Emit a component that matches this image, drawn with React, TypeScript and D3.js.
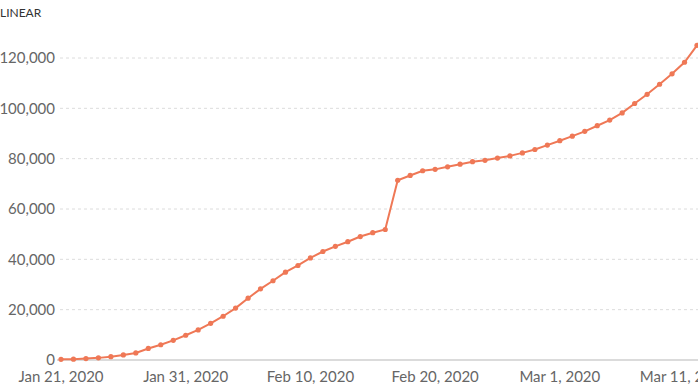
import React, { useRef, useEffect } from 'react';
import * as d3 from 'd3';

// daily totals, Jan 21 2020 .. Mar 12 2020
const startDate = '2020-01-21';
const cases = [
  282, 314, 581, 846, 1320, 2014, 2798, 4593, 6065, 7818, 9826,
  11953, 14557, 17391, 20630, 24554, 28276, 31481, 34886, 37558, 40554,
  43103, 45171, 46997, 49053, 50580, 51857, 71429, 73332, 75204, 75748,
  76769, 77794, 78811, 79331, 80239, 81109, 82294, 83652, 85403, 87137,
  88948, 90870, 93090, 95324, 98192, 101927, 105586, 109577, 113702, 118319,
  125048,
];
const yTicks = [0, 20000, 40000, 60000, 80000, 100000, 120000];
const xTickDates = ['2020-01-21', '2020-01-31', '2020-02-10', '2020-02-20', '2020-03-01', '2020-03-11'];

const W = 698;
const H = 392;

const App = () => {
  const svgRef = useRef<SVGSVGElement>(null);

  useEffect(() => {
    const parse = d3.utcParse('%Y-%m-%d');
    const t0 = parse(startDate) as Date;
    const data = cases.map((v, i) => ({ date: d3.utcDay.offset(t0, i), value: v }));

    const margin = { top: 0, right: 1, bottom: 32, left: 61 };

    const svg = d3.select(svgRef.current);
    svg.selectAll('*').remove();

    const x = d3.scaleUtc()
      .domain([data[0].date, data[data.length - 1].date])
      .range([margin.left, W - margin.right]);

    const y = d3.scaleLinear()
      .domain([0, 120000])
      .range([360, 58]);

    const font = 'Lato, "Open Sans", sans-serif';

    // gridlines
    svg.append('g')
      .selectAll('line')
      .data(yTicks.filter(d => d > 0))
      .join('line')
      .attr('x1', 60)
      .attr('x2', W)
      .attr('y1', d => y(d))
      .attr('y2', d => y(d))
      .attr('stroke', '#dcdcdc')
      .attr('stroke-dasharray', '3,3');

    // baseline
    svg.append('line')
      .attr('x1', 57)
      .attr('x2', W)
      .attr('y1', y(0))
      .attr('y2', y(0))
      .attr('stroke', '#cfcfcf')
      .attr('stroke-width', 1.5);

    // y labels
    svg.append('g')
      .selectAll('text')
      .data(yTicks)
      .join('text')
      .attr('x', 55)
      .attr('y', d => y(d))
      .attr('dy', '0.35em')
      .attr('text-anchor', 'end')
      .style('font-family', font)
      .style('font-size', '15px')
      .style('fill', '#666')
      .text(d => d3.format(',')(d));

    // x labels
    svg.append('g')
      .selectAll('text')
      .data(xTickDates.map(s => parse(s) as Date))
      .join('text')
      .attr('x', d => x(d))
      .attr('y', 382)
      .attr('text-anchor', 'middle')
      .style('font-family', font)
      .style('font-size', '15px')
      .style('fill', '#666')
      .text(d => d3.utcFormat('%b %-d, %Y')(d));

    const color = '#ef7856';

    const line = d3.line<{ date: Date; value: number }>()
      .x(d => x(d.date))
      .y(d => y(d.value));

    svg.append('path')
      .datum(data)
      .attr('fill', 'none')
      .attr('stroke', color)
      .attr('stroke-width', 2)
      .attr('d', line);

    svg.append('g')
      .selectAll('circle')
      .data(data)
      .join('circle')
      .attr('cx', d => x(d.date))
      .attr('cy', d => y(d.value))
      .attr('r', 2.6)
      .attr('fill', color);

    svg.append('text')
      .attr('x', 0)
      .attr('y', 17)
      .style('font-family', font)
      .style('font-size', '12px')
      .style('fill', '#333')
      .text('LINEAR');
  }, []);

  return (
    <svg
      ref={svgRef}
      width={W}
      height={H}
      style={{ position: 'absolute', left: 0, top: 0, background: '#fff' }}
    />
  );
};

export default App;
